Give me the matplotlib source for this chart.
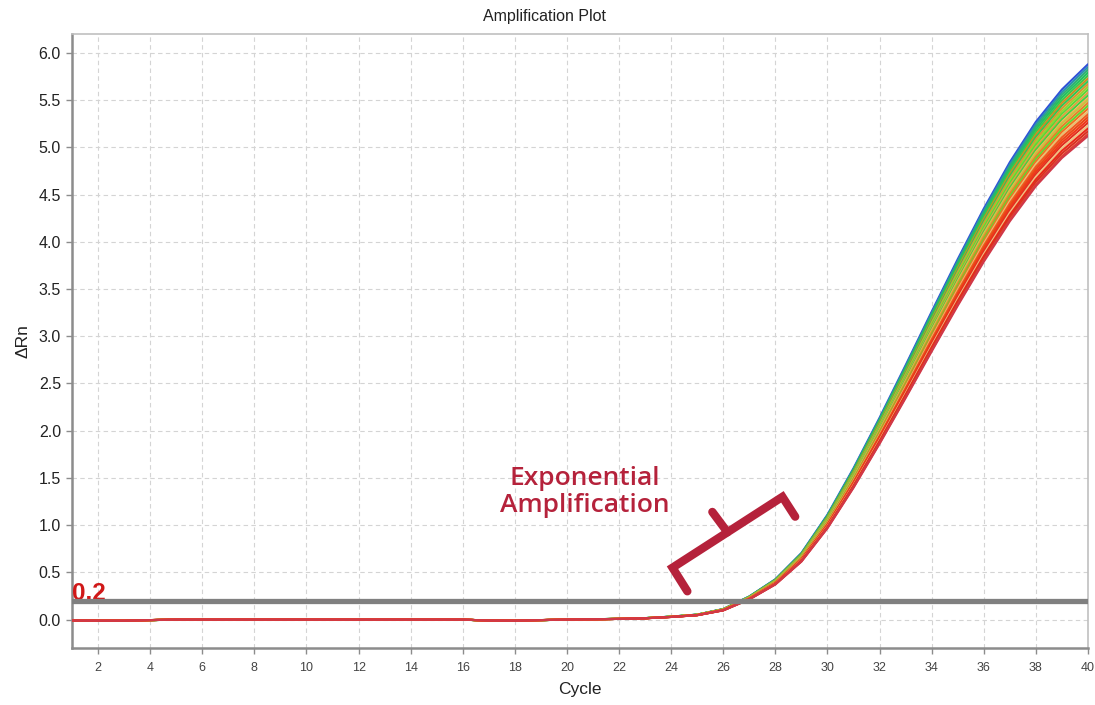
import numpy as np
import matplotlib
matplotlib.use("Agg")
import matplotlib.pyplot as plt

# ---------------- data ----------------
cycles = list(range(1, 41))
# representative (middle) amplification curve
base_curve = [-0.010, -0.012, -0.012, -0.005, 0.000, 0.000, 0.000, 0.000, 0.000, 0.000,
              0.000, 0.000, 0.000, 0.000, 0.000, 0.000, -0.010, -0.012, -0.005, 0.000,
              0.004, 0.008, 0.015, 0.030, 0.050, 0.105, 0.230, 0.400, 0.660, 1.040,
              1.500, 2.000, 2.520, 3.050, 3.570, 4.070, 4.530, 4.930, 5.250, 5.500]
# end-point (cycle 40) value of each well's curve, read at the right edge
well_end_values = [5.88, 5.85, 5.82, 5.79, 5.76, 5.73, 5.70, 5.67, 5.64, 5.61,
                   5.58, 5.55, 5.52, 5.50, 5.47, 5.44, 5.41, 5.38, 5.35, 5.32,
                   5.29, 5.26, 5.23, 5.20, 5.17, 5.14, 5.12]
well_colors = ["#3050d8", "#2a8fb0", "#2fb070", "#22c060", "#3cc848", "#d08a20", "#2ec855",
               "#e09030", "#9ad030", "#58d838", "#e0a040", "#44d040", "#f0b050", "#c8c040",
               "#e88028", "#60d830", "#f07020", "#e8c070", "#f05a20", "#e84818", "#f03818",
               "#e03020", "#f0c080", "#e82818", "#d83020", "#e04030", "#d03848"]
threshold = 0.2
x_ticks = list(range(2, 41, 2))
y_ticks = [0.0, 0.5, 1.0, 1.5, 2.0, 2.5, 3.0, 3.5, 4.0, 4.5, 5.0, 5.5, 6.0]

# ---------------- figure ----------------
fig = plt.figure(figsize=(10.95, 7.05), dpi=100)
ax = fig.add_axes([0.0658, 0.0809, 0.9278, 0.8709])

base = np.array(base_curve)
for end, col in zip(well_end_values, well_colors):
    ax.plot(cycles, base * end / base[-1], color=col, lw=1.5, zorder=3,
            solid_capstyle="round", solid_joinstyle="round")

ax.axhline(threshold, color="#808080", lw=3.8, zorder=5)
ax.text(0.0, threshold + 0.01, "0.2", transform=ax.get_yaxis_transform(),
        ha="left", va="baseline", color="#d01818", fontsize=17.5, fontweight="bold",
        family=["Liberation Sans Narrow", "Liberation Sans", "DejaVu Sans"], zorder=4)

ax.set_xlim(1, 40)
ax.set_ylim(-0.3, 6.2)
ax.set_xticks(x_ticks)
ax.set_yticks(y_ticks)
ax.set_yticklabels([f"{v:.1f}" for v in y_ticks])

ax.grid(True, color="#d4d4d4", linestyle=(0, (4, 3)), lw=0.8)
ax.set_axisbelow(True)
for side in ["top", "right"]:
    ax.spines[side].set_color("#c0c0c0")
    ax.spines[side].set_linewidth(1.2)
for side in ["left", "bottom"]:
    ax.spines[side].set_color("#8c8c8c")
    ax.spines[side].set_linewidth(1.8)
ax.tick_params(axis="both", direction="out", length=4, width=1, color="#8c8c8c")
ax.tick_params(axis="y", labelsize=11.5, labelcolor="#222222", pad=4)
ax.tick_params(axis="x", labelsize=9, labelcolor="#444444", pad=6)
for lab in ax.get_xticklabels() + ax.get_yticklabels():
    lab.set_family(["Liberation Sans", "DejaVu Sans"])

fig.text(0.497, 0.976, "Amplification Plot", fontsize=11.5, color="#222222",
         ha="center", va="center", family=["Liberation Sans", "DejaVu Sans"])
ax.set_xlabel("Cycle", fontsize=12.5, color="#222222", labelpad=6,
              family=["Liberation Sans", "DejaVu Sans"])
ax.set_ylabel("ΔRn", fontsize=12.5, color="#222222", labelpad=6,
              family=["Liberation Sans", "DejaVu Sans"])

# annotation: rotated bracket + label
bcol = "#b5223b"
ax.plot([24.62, 24.05, 28.27, 28.76], [0.30, 0.55, 1.30, 1.09], color=bcol, lw=6,
        solid_capstyle="round", solid_joinstyle="miter", zorder=6)
ax.plot([26.16, 25.58], [0.925, 1.14], color=bcol, lw=6, solid_capstyle="round", zorder=6)
ax.text(20.67, 1.35, "Exponential\nAmplification", color=bcol, fontsize=19,
        fontweight="semibold", ha="center", va="center", linespacing=1.1,
        family=["Open Sans", "DejaVu Sans"], zorder=6)

fig.savefig("out.png", dpi=100)
